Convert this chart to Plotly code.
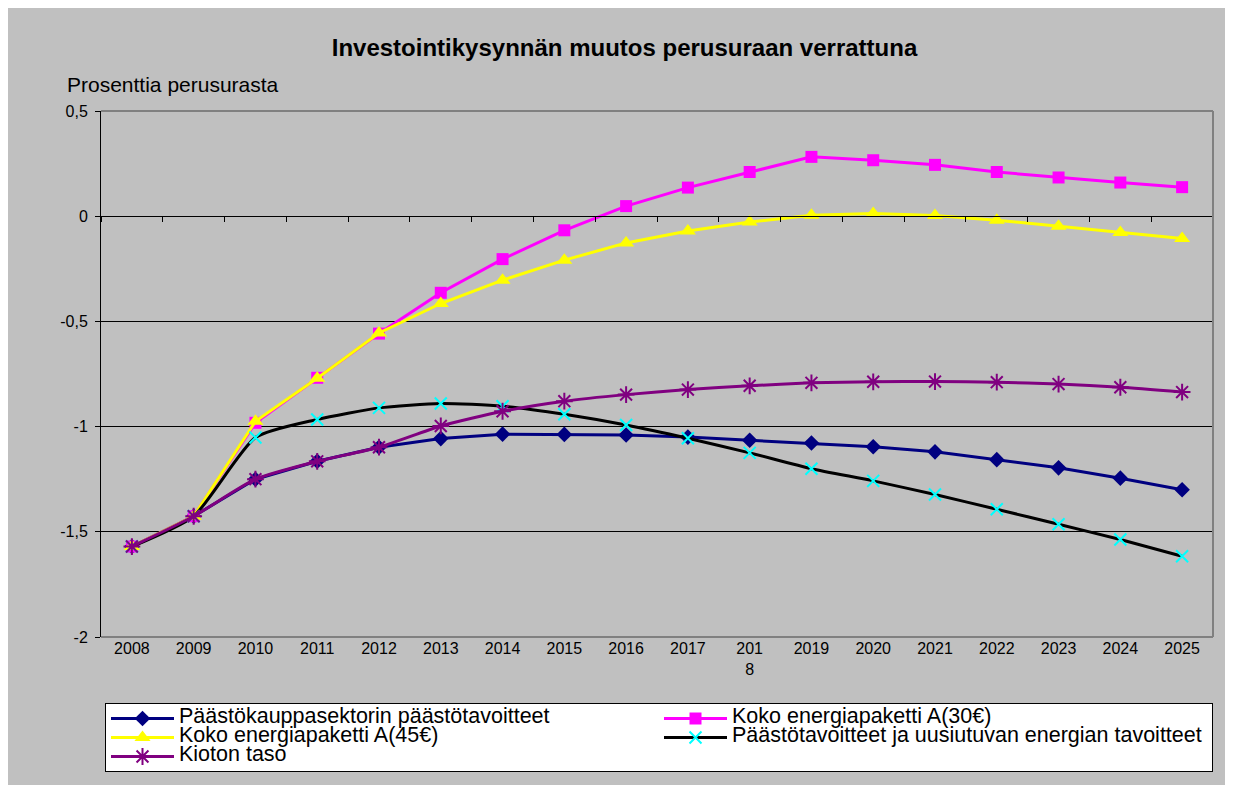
import plotly.graph_objects as go

years = [str(y) for y in range(2008, 2026)]
year_labels = ["2008", "2009", "2010", "2011", "2012", "2013", "2014", "2015", "2016",
               "2017", "201<br>8", "2019", "2020", "2021", "2022", "2023", "2024", "2025"]

name_navy = "Päästökauppasektorin päästötavoitteet"
name_mag = "Koko energiapaketti A(30€)"
name_yel = "Koko energiapaketti A(45€)"
name_blk = "Päästötavoitteet ja uusiutuvan energian tavoitteet"
name_pur = "Kioton taso"

navy = [-1.57, -1.426, -1.25, -1.165, -1.098, -1.057, -1.036, -1.037, -1.040,
        -1.050, -1.065, -1.078, -1.096, -1.120, -1.157, -1.196, -1.245, -1.300]
magenta = [-1.57, -1.426, -0.982, -0.768, -0.558, -0.364, -0.204, -0.067, 0.048,
           0.136, 0.210, 0.282, 0.266, 0.244, 0.210, 0.184, 0.160, 0.138]
yellow = [-1.57, -1.426, -0.975, -0.770, -0.555, -0.415, -0.304, -0.209, -0.127,
          -0.070, -0.028, 0.005, 0.013, 0.003, -0.019, -0.048, -0.078, -0.106]
black = [-1.57, -1.426, -1.052, -0.966, -0.911, -0.890, -0.903, -0.941, -0.992,
         -1.055, -1.125, -1.200, -1.258, -1.323, -1.393, -1.464, -1.537, -1.616]
purple = [-1.57, -1.426, -1.25, -1.165, -1.098, -0.997, -0.927, -0.879, -0.848,
          -0.824, -0.806, -0.792, -0.787, -0.786, -0.789, -0.798, -0.813, -0.836]

y_ticks = [0.5, 0, -0.5, -1, -1.5, -2]
y_tick_labels = ["0,5", "0", "-0,5", "-1", "-1,5", "-2"]

W, H = 1233, 785
ML, MR, MT, MB = 93, 28, 103, 156
PW = W - ML - MR
PH = H - MT - MB


def leg(name):
    return '<span style="font-size:21.5px">' + name + "</span>"


fig = go.Figure()
fig.add_trace(go.Scatter(x=years, y=navy, name=leg(name_navy), mode="lines+markers",
                         line=dict(color="#000080", width=3),
                         marker=dict(symbol="diamond", size=12, color="#000080")))
fig.add_trace(go.Scatter(x=years, y=magenta, name=leg(name_mag), mode="lines+markers",
                         line=dict(color="#FF00FF", width=3),
                         marker=dict(symbol="square", size=12, color="#FF00FF")))
fig.add_trace(go.Scatter(x=years, y=yellow, name=leg(name_yel), mode="lines+markers",
                         line=dict(color="#FFFF00", width=3),
                         marker=dict(symbol="triangle-up", size=14, color="#FFFF00")))
fig.add_trace(go.Scatter(x=years, y=black, name=leg(name_blk), mode="lines+markers",
                         line=dict(color="#000000", width=3, shape="spline", smoothing=0.6),
                         marker=dict(symbol="x-thin-open", size=12, color="#00FFFF",
                                     line=dict(width=2, color="#00FFFF"))))
fig.add_trace(go.Scatter(x=years, y=purple, name=leg(name_pur), mode="lines+markers",
                         line=dict(color="#800080", width=3, shape="spline", smoothing=0.6),
                         marker=dict(symbol="asterisk-open", size=14, color="#800080",
                                     line=dict(width=2, color="#800080"))))

n = len(years)
fig.update_layout(
    width=W, height=H,
    margin=dict(l=ML, r=MR, t=MT, b=MB, autoexpand=False),
    paper_bgcolor="#C0C0C0",
    plot_bgcolor="#C0C0C0",
    font=dict(family="Liberation Sans, Arial, sans-serif", color="#000000"),
    title=dict(text="<b>Investointikysynnän muutos perusuraan verrattuna</b>",
               font=dict(size=24, color="#000000"),
               x=0.5, xanchor="center", xref="container",
               y=1 - 40 / H, yanchor="middle", yref="container"),
    xaxis=dict(type="category", range=[-0.5, n - 0.5], tickmode="array",
               tickvals=years, ticktext=year_labels, ticks="", showgrid=False,
               showline=False, zeroline=False, tickfont=dict(size=16),
               fixedrange=True),
    xaxis2=dict(overlaying="x", anchor="free", position=(0 - min(y_ticks)) / (max(y_ticks) - min(y_ticks)),
                side="bottom", range=[-0.5, n - 0.5], tickmode="array",
                tickvals=[i - 0.5 for i in range(n + 1)], ticks="outside", ticklen=5,
                tickcolor="#000000", showticklabels=False, showgrid=False,
                showline=True, linecolor="#000000", linewidth=1, zeroline=False),
    yaxis=dict(range=[min(y_ticks), max(y_ticks)], tickmode="array", tickvals=y_ticks,
               ticktext=y_tick_labels,
               ticks="outside", ticklen=5, tickcolor="#000000",
               showgrid=True, gridcolor="#000000", gridwidth=1,
               showline=True, linecolor="#000000", linewidth=1,
               zeroline=False, tickfont=dict(size=16), ticklabelstandoff=4),
    legend=dict(orientation="h", x=(97 - ML) / PW, xanchor="left",
                y=-(695 - (MT + PH)) / PH, yanchor="top",
                bgcolor="#FFFFFF", bordercolor="#000000", borderwidth=1,
                font=dict(size=12, color="#000000"),
                itemwidth=63,
                entrywidth=475, entrywidthmode="pixels", traceorder="normal",
                tracegroupgap=0),
    showlegend=True,
)

# invisible helper trace so that the zero-line axis with ticks is drawn
fig.add_trace(go.Scatter(x=[0], y=[0], xaxis="x2", mode="markers",
                         marker=dict(opacity=0), showlegend=False, hoverinfo="skip"))

# plot-area border (grey) on top, right and bottom
border = "#808080"
fig.add_shape(type="line", xref="x domain", yref="y domain", x0=0, x1=1, y0=1, y1=1,
              line=dict(color=border, width=2), layer="above")
fig.add_shape(type="line", xref="x domain", yref="y domain", x0=0, x1=1, y0=0, y1=0,
              line=dict(color=border, width=2), layer="above")
fig.add_shape(type="line", xref="x domain", yref="y domain", x0=1, x1=1, y0=0, y1=1,
              line=dict(color=border, width=2), layer="above")

fig.add_annotation(text="Prosenttia perusurasta", xref="paper", yref="paper",
                   x=(57 - ML) / PW, xanchor="left", y=1 + (MT - 76) / PH, yanchor="middle",
                   showarrow=False, font=dict(size=21, color="#000000"))

fig.write_html("out.html")
